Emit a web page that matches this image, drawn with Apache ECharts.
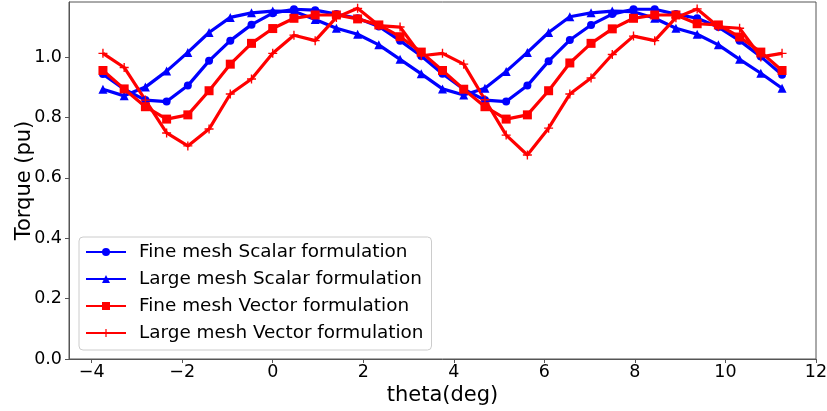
<!DOCTYPE html>
<html>
<head>
<meta charset="utf-8">
<script src="https://cdn.jsdelivr.net/npm/echarts@6/dist/echarts.min.js"></script>
<style>
html,body{margin:0;padding:0;background:#fff;}
#chart{width:827px;height:411px;}
</style>
</head>
<body>
<div id="chart"></div>
<script>
var theta = [-3.75, -3.28125, -2.8125, -2.34375, -1.875, -1.40625, -0.9375, -0.46875, 0, 0.46875, 0.9375, 1.40625, 1.875, 2.34375, 2.8125, 3.28125, 3.75, 4.21875, 4.6875, 5.15625, 5.625, 6.09375, 6.5625, 7.03125, 7.5, 7.96875, 8.4375, 8.90625, 9.375, 9.84375, 10.3125, 10.78125, 11.25];
var fineScalar = [0.944, 0.894, 0.858, 0.853, 0.906, 0.988, 1.055, 1.108, 1.146, 1.159, 1.156, 1.143, 1.129, 1.102, 1.055, 1.004, 0.945, 0.894, 0.858, 0.853, 0.906, 0.987, 1.057, 1.107, 1.143, 1.159, 1.159, 1.143, 1.129, 1.100, 1.055, 1.002, 0.942];
var largeScalar = [0.894, 0.872, 0.901, 0.954, 1.016, 1.082, 1.132, 1.147, 1.153, 1.152, 1.125, 1.096, 1.076, 1.041, 0.993, 0.945, 0.895, 0.875, 0.897, 0.953, 1.016, 1.082, 1.134, 1.147, 1.153, 1.151, 1.129, 1.096, 1.076, 1.041, 0.993, 0.947, 0.897];
var fineVector = [0.956, 0.895, 0.836, 0.795, 0.809, 0.889, 0.977, 1.046, 1.095, 1.129, 1.140, 1.140, 1.127, 1.107, 1.068, 1.017, 0.956, 0.894, 0.836, 0.795, 0.809, 0.889, 0.981, 1.046, 1.094, 1.129, 1.140, 1.140, 1.111, 1.107, 1.067, 1.017, 0.956];
var largeVector = [1.013, 0.966, 0.858, 0.749, 0.706, 0.762, 0.878, 0.928, 1.013, 1.073, 1.055, 1.132, 1.162, 1.105, 1.100, 1.005, 1.013, 0.977, 0.859, 0.742, 0.676, 0.765, 0.878, 0.931, 1.009, 1.070, 1.055, 1.131, 1.160, 1.101, 1.096, 1.001, 1.013];
var seriesNames = ['Fine mesh Scalar formulation', 'Large mesh Scalar formulation', 'Fine mesh Vector formulation', 'Large mesh Vector formulation'];
var xTicks = [-4, -2, 0, 2, 4, 6, 8, 10, 12];
var yTicks = [0, 0.2, 0.4, 0.6, 0.8, 1.0];

function pairs(ys) { return theta.map(function (t, i) { return [t, ys[i]]; }); }
var FONT = 'DejaVu Sans';
var plusPath = 'path://M3.4,0 H4.6 V3.4 H8 V4.6 H4.6 V8 H3.4 V4.6 H0 V3.4 H3.4 Z';

function mk(name, ys, color, symbol, size) {
  return {
    name: name, type: 'line', data: pairs(ys),
    symbol: symbol, symbolSize: size, showAllSymbol: true,
    lineStyle: { color: color, width: 3.2 },
    itemStyle: { color: color },
    emphasis: { disabled: true },
    animation: false
  };
}

var chart = echarts.init(document.getElementById('chart'), null, { renderer: 'canvas' });
chart.setOption({
  animation: false,
  textStyle: { fontFamily: FONT },
  grid: { left: 69, right: 11, top: 2, bottom: 52, show: true, borderColor: '#555', borderWidth: 1,
    containLabel: false, outerBoundsMode: 'none' },
  xAxis: {
    type: 'value', min: -4.5, max: 12,
    name: 'theta(deg)', nameLocation: 'middle', nameGap: 26, nameMoveOverlap: false,
    nameTextStyle: { fontFamily: FONT, fontSize: 21, color: '#000', verticalAlign: 'top' },
    axisLine: { show: true, onZero: false, lineStyle: { color: '#555', width: 1 } },
    axisTick: { show: true, length: 4, inside: false, customValues: xTicks, lineStyle: { color: '#555' } },
    axisLabel: { customValues: xTicks, fontFamily: FONT, fontSize: 17.5, color: '#000', margin: 4,
      formatter: function (v) { return String(v).replace('-', '\u2212'); } },
    splitLine: { show: false }
  },
  yAxis: {
    type: 'value', min: 0, max: 1.183,
    name: 'Torque (pu)', nameLocation: 'middle', nameGap: 34, nameRotate: 90, nameMoveOverlap: false,
    nameTextStyle: { fontFamily: FONT, fontSize: 21, color: '#000' },
    axisLine: { show: true, onZero: false, lineStyle: { color: '#555', width: 1 } },
    axisTick: { show: true, length: 4, customValues: yTicks, lineStyle: { color: '#555' } },
    axisLabel: { customValues: yTicks, fontFamily: FONT, fontSize: 17.5, color: '#000', margin: 7,
      formatter: function (v) { return v.toFixed(1); } },
    splitLine: { show: false }
  },
  legend: {
    orient: 'vertical', left: 79, top: 237,
    itemWidth: 40, itemHeight: 10, itemGap: 7,
    padding: [5, 8, 7, 6],
    borderColor: '#ccc', borderWidth: 1, borderRadius: 4,
    backgroundColor: 'rgba(255,255,255,0.8)',
    textStyle: { fontFamily: FONT, fontSize: 18.4, color: '#000', lineHeight: 20, padding: [0, 0, 0, 8] },
    data: seriesNames
  },
  series: [
    mk(seriesNames[0], fineScalar, '#0000ff', 'circle', 8),
    mk(seriesNames[1], largeScalar, '#0000ff', 'triangle', 9),
    mk(seriesNames[2], fineVector, '#ff0000', 'rect', 9),
    mk(seriesNames[3], largeVector, '#ff0000', plusPath, 9)
  ]
});
</script>
</body>
</html>
